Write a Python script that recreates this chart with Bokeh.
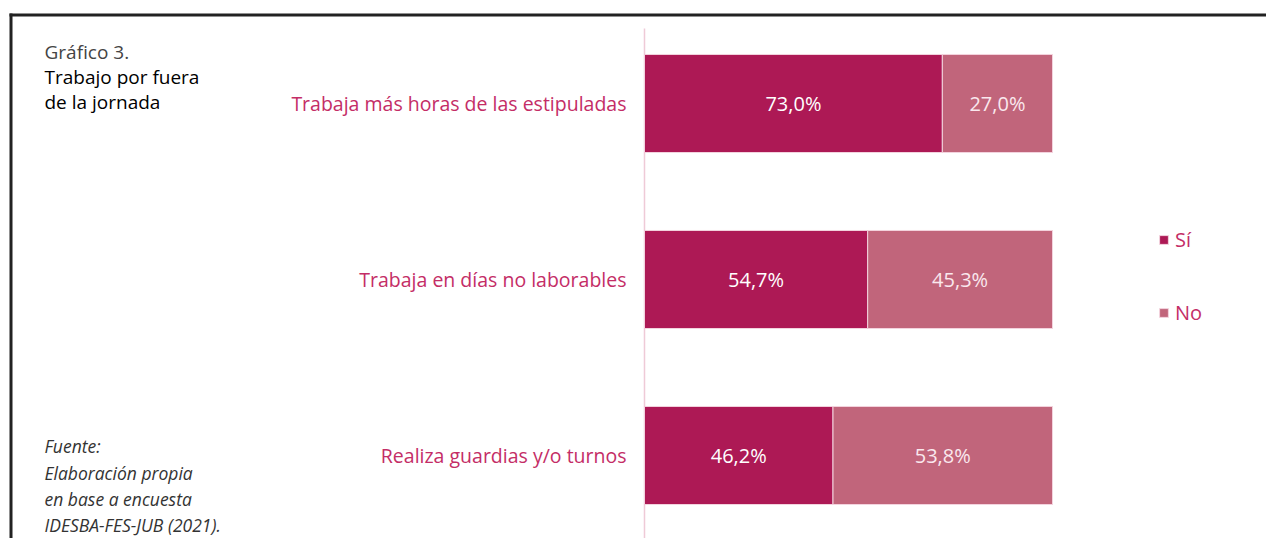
from bokeh.plotting import figure
from bokeh.models import ColumnDataSource, Range1d, Label, BoxAnnotation
from bokeh.core.properties import value
from bokeh.embed import file_html
from bokeh.resources import INLINE

# ---- data ----
categories = ["Trabaja más horas de las estipuladas",
              "Trabaja en días no laborables",
              "Realiza guardias y/o turnos"]
si = [73.0, 54.7, 46.2]
no = [27.0, 45.3, 53.8]
series_names = ["Sí", "No"]
fig_label = "Gráfico 3."
title_lines = ["Trabajo por fuera", "de la jornada"]
source_lines = ["Fuente:", "Elaboración propia", "en base a encuesta", "IDESBA-FES-JUB (2021)."]

def fmt(v):
    return f"{v:.1f}".replace(".", ",") + "%"

FONT = "Open Sans"
C_SI = "#AD1955"
C_NO = "#C1657B"
C_TXT = "#C42D66"

W, H = 1266, 538
ypos = list(range(len(categories)))

src = ColumnDataSource(dict(
    y=ypos, cat=categories, si=si, no=no,
    si_mid=[v / 2 for v in si],
    no_mid=[a + b / 2 for a, b in zip(si, no)],
    si_lab=[fmt(v) for v in si],
    no_lab=[fmt(v) for v in no],
))

p = figure(width=W, height=H, output_backend="svg", toolbar_location=None,
           x_range=Range1d(-157.84, 152.45), y_range=Range1d(2.4716, -0.5852),
           x_axis_location=None, y_axis_location=None, min_border=0,
           background_fill_color="white", border_fill_color="white")
p.outline_line_color = None
p.grid.visible = False

# axis line
p.segment(x0=0, x1=0, y0=ypos[0] - 0.426, y1=ypos[-1] + 0.494,
          line_color="#EFCAD7", line_width=1.5)

p.hbar_stack(["si", "no"], y="y", height=0.557, source=src,
             color=[C_SI, C_NO], line_color="#F3D3DE", line_width=1,
             legend_label=series_names)

p.text(x=0, y="y", text="cat", source=src, x_offset=-18,
       text_align="right", text_baseline="middle",
       text_font=value(FONT), text_font_size="19.5px", text_color=C_TXT)
p.text(x="si_mid", y="y", text="si_lab", source=src,
       text_align="center", text_baseline="middle",
       text_font=value(FONT), text_font_size="20px", text_color="white")
p.text(x="no_mid", y="y", text="no_lab", source=src,
       text_align="center", text_baseline="middle",
       text_font=value(FONT), text_font_size="20px", text_color="#FAE8EE")

# frame lines (top and left)
p.add_layout(BoxAnnotation(left=9, right=W, top=H - 13, bottom=H - 16,
                           left_units="screen", right_units="screen",
                           top_units="screen", bottom_units="screen",
                           fill_color="#222222", fill_alpha=1, line_color=None))
p.add_layout(BoxAnnotation(left=9, right=12, top=H - 13, bottom=0,
                           left_units="screen", right_units="screen",
                           top_units="screen", bottom_units="screen",
                           fill_color="#222222", fill_alpha=1, line_color=None))

# titles
p.add_layout(Label(x=44, y=H - 51, x_units="screen", y_units="screen", text=fig_label,
                   text_font=FONT, text_font_size="19px", text_color="#444444",
                   text_baseline="middle"))
for i, t in enumerate(title_lines):
    p.add_layout(Label(x=44, y=H - 76 - 25 * i, x_units="screen", y_units="screen", text=t,
                       text_font=FONT, text_font_size="19px", text_color="#000000",
                       text_baseline="middle"))
src_y = [445, 472, 498, 524]
for t, yy in zip(source_lines, src_y):
    p.add_layout(Label(x=44, y=H - yy, x_units="screen", y_units="screen", text=t,
                       text_font=FONT, text_font_size="17.5px", text_font_style="italic",
                       text_color="#333333", text_baseline="middle"))

lg = p.legend[0]
lg.location = (1158, 212)
lg.orientation = "vertical"
lg.glyph_width = 11
lg.glyph_height = 11
lg.label_height = 28
lg.spacing = 45
lg.padding = 0
lg.margin = 0
lg.label_standoff = 6
lg.label_text_font = FONT
lg.label_text_font_size = "20px"
lg.label_text_color = C_TXT
lg.label_text_baseline = "middle"
lg.border_line_color = None
lg.background_fill_alpha = 0

open("out.html", "w").write(file_html(p, INLINE))
